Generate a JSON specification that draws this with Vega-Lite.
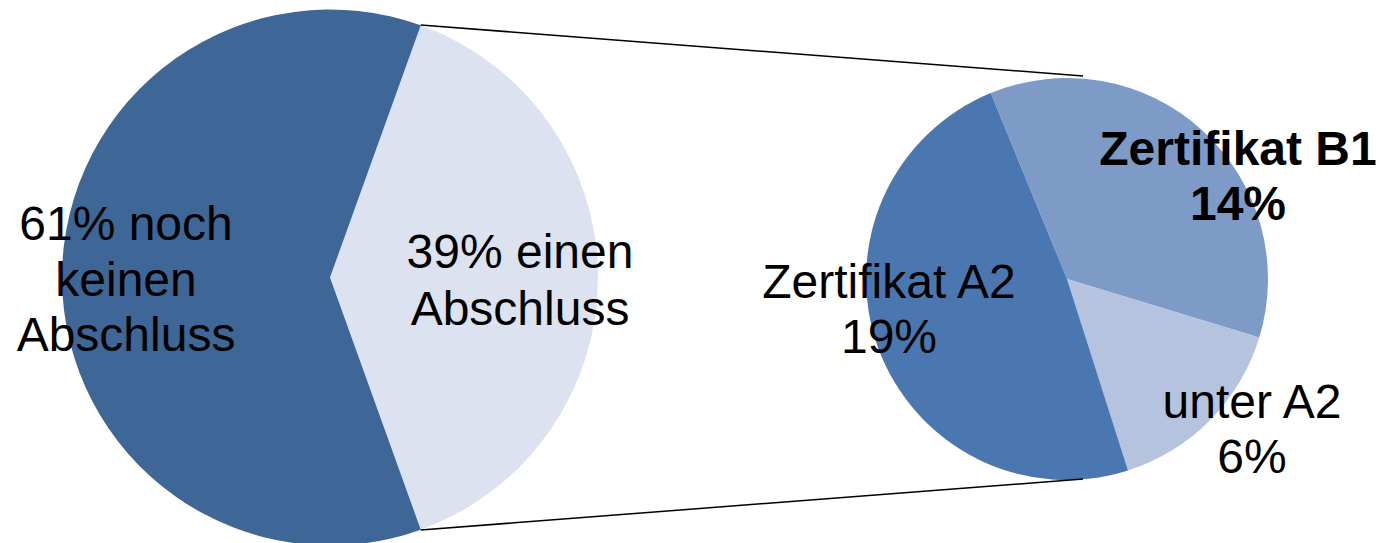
{
  "$schema": "https://vega.github.io/schema/vega-lite/v6.json",
  "width": 1391,
  "height": 543,
  "padding": 0,
  "autosize": {"type": "none"},
  "background": "white",
  "config": {"view": {"stroke": null}, "axis": {"disable": true}},
  "datasets": {
    "abschluss": [
      {"kategorie": "einen Abschluss", "anteil": 39, "ord": 1, "label": "39% einen\nAbschluss"},
      {"kategorie": "noch keinen Abschluss", "anteil": 61, "ord": 2, "label": "61% noch\nkeinen\nAbschluss"}
    ],
    "zertifikat": [
      {"kategorie": "Zertifikat B1", "anteil": 14, "ord": 1, "label": "Zertifikat B1\n14%"},
      {"kategorie": "unter A2", "anteil": 6, "ord": 2, "label": "unter A2\n6%"},
      {"kategorie": "Zertifikat A2", "anteil": 19, "ord": 3, "label": "Zertifikat A2\n19%"}
    ]
  },
  "layer": [
    {
      "data": {"name": "abschluss"},
      "mark": {"type": "arc", "outerRadius": 268},
      "encoding": {
        "x": {"datum": 330, "type": "quantitative", "scale": {"domain": [0, 1391], "nice": false, "zero": false}, "axis": null},
        "y": {"datum": 277.5, "type": "quantitative", "scale": {"domain": [0, 543], "nice": false, "zero": false, "reverse": true}, "axis": null},
        "theta": {"field": "anteil", "type": "quantitative", "stack": true, "scale": {"range": [0.3456, 6.6288]}},
        "order": {"field": "ord", "type": "quantitative"},
        "color": {"field": "kategorie", "type": "nominal", "legend": null,
          "scale": {"domain": ["noch keinen Abschluss", "einen Abschluss", "Zertifikat A2", "Zertifikat B1", "unter A2"],
                    "range": ["#3E6696", "#DCE2EF", "#4A77AF", "#7E9BC8", "#B5C3DF"]}}
      }
    },
    {
      "data": {"name": "zertifikat"},
      "mark": {"type": "arc", "outerRadius": 201},
      "encoding": {
        "x": {"datum": 1067, "type": "quantitative", "scale": {"domain": [0, 1391], "nice": false, "zero": false}, "axis": null},
        "y": {"datum": 279, "type": "quantitative", "scale": {"domain": [0, 543], "nice": false, "zero": false, "reverse": true}, "axis": null},
        "theta": {"field": "anteil", "type": "quantitative", "stack": true, "scale": {"range": [-0.389, 5.894]}},
        "order": {"field": "ord", "type": "quantitative"},
        "color": {"field": "kategorie", "type": "nominal", "legend": null,
          "scale": {"domain": ["noch keinen Abschluss", "einen Abschluss", "Zertifikat A2", "Zertifikat B1", "unter A2"],
                    "range": ["#3E6696", "#DCE2EF", "#4A77AF", "#7E9BC8", "#B5C3DF"]}}
      }
    },
    {
      "data": {"values": [{"linie": "oben"}]},
      "mark": {"type": "rule", "color": "black", "strokeWidth": 1.5},
      "encoding": {
        "x": {"datum": 420.7, "type": "quantitative", "scale": {"domain": [0, 1391], "nice": false, "zero": false}},
        "y": {"datum": 25, "type": "quantitative", "scale": {"domain": [0, 543], "nice": false, "zero": false, "reverse": true}},
        "x2": {"datum": 1083},
        "y2": {"datum": 76}
      }
    },
    {
      "data": {"values": [{"linie": "unten"}]},
      "mark": {"type": "rule", "color": "black", "strokeWidth": 1.5},
      "encoding": {
        "x": {"datum": 420.7, "type": "quantitative", "scale": {"domain": [0, 1391], "nice": false, "zero": false}},
        "y": {"datum": 530, "type": "quantitative", "scale": {"domain": [0, 543], "nice": false, "zero": false, "reverse": true}},
        "x2": {"datum": 1083},
        "y2": {"datum": 479}
      }
    },
    {
      "data": {"name": "abschluss"},
      "transform": [{"filter": "datum.kategorie === 'noch keinen Abschluss'"}],
      "mark": {"type": "text", "font": "Liberation Sans", "fontSize": 48, "lineHeight": 55.5, "lineBreak": "\n", "align": "center", "baseline": "alphabetic", "color": "black"},
      "encoding": {
        "x": {"datum": 126, "type": "quantitative"},
        "y": {"datum": 240, "type": "quantitative"},
        "text": {"field": "label"}
      }
    },
    {
      "data": {"name": "abschluss"},
      "transform": [{"filter": "datum.kategorie === 'einen Abschluss'"}],
      "mark": {"type": "text", "font": "Liberation Sans", "fontSize": 48, "lineHeight": 57, "lineBreak": "\n", "align": "center", "baseline": "alphabetic", "color": "black"},
      "encoding": {
        "x": {"datum": 520, "type": "quantitative"},
        "y": {"datum": 268, "type": "quantitative"},
        "text": {"field": "label"}
      }
    },
    {
      "data": {"name": "zertifikat"},
      "transform": [{"filter": "datum.kategorie === 'Zertifikat A2'"}],
      "mark": {"type": "text", "font": "Liberation Sans", "fontSize": 48, "lineHeight": 55, "lineBreak": "\n", "align": "center", "baseline": "alphabetic", "color": "black"},
      "encoding": {
        "x": {"datum": 889, "type": "quantitative"},
        "y": {"datum": 298, "type": "quantitative"},
        "text": {"field": "label"}
      }
    },
    {
      "data": {"name": "zertifikat"},
      "transform": [{"filter": "datum.kategorie === 'Zertifikat B1'"}],
      "mark": {"type": "text", "font": "Liberation Sans", "fontSize": 48, "fontWeight": "bold", "lineHeight": 55, "lineBreak": "\n", "align": "center", "baseline": "alphabetic", "color": "black"},
      "encoding": {
        "x": {"datum": 1238, "type": "quantitative"},
        "y": {"datum": 165, "type": "quantitative"},
        "text": {"field": "label"}
      }
    },
    {
      "data": {"name": "zertifikat"},
      "transform": [{"filter": "datum.kategorie === 'unter A2'"}],
      "mark": {"type": "text", "font": "Liberation Sans", "fontSize": 48, "lineHeight": 55, "lineBreak": "\n", "align": "center", "baseline": "alphabetic", "color": "black"},
      "encoding": {
        "x": {"datum": 1252, "type": "quantitative"},
        "y": {"datum": 418, "type": "quantitative"},
        "text": {"field": "label"}
      }
    }
  ],
  "resolve": {"scale": {"theta": "independent"}}
}
